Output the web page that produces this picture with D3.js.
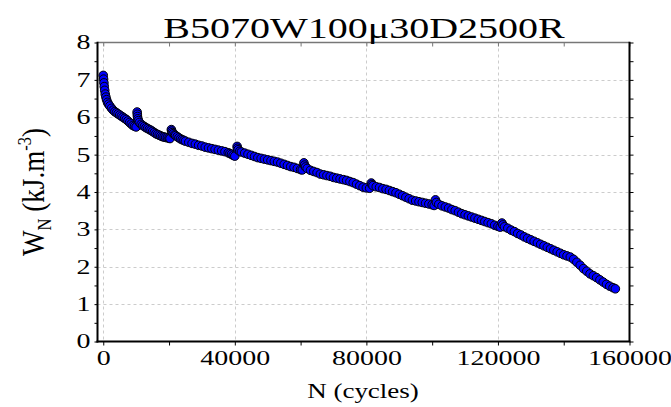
<!DOCTYPE html>
<html>
<head>
<meta charset="utf-8">
<script src="https://cdn.jsdelivr.net/npm/d3@7"></script>
<style>
  html, body { margin: 0; padding: 0; background: #fff; }
  svg { display: block; }
  text { font-family: "Liberation Serif", "DejaVu Serif", serif; fill: #000; }
  .xt text { transform-box: fill-box; transform-origin: center; transform: scaleX(1.4); }
  .yt text { transform-box: fill-box; transform-origin: right center; transform: scaleX(1.4); }
</style>
</head>
<body>
<svg id="chart" width="671" height="407"></svg>
<script>
const title = "B5070W100\u03bc30D2500R";
const xTicks = [0, 40000, 80000, 120000, 160000];
const yTicks = [0, 1, 2, 3, 4, 5, 6, 7, 8];

// cycles N
const cyclesN = [
  0, 100, 200, 300, 450, 600, 800, 1000, 1300, 1600, 2000, 2500, 3000, 3500, 4000, 4500, 5000, 5500,
  6000, 6500, 7000, 7500, 8000, 8500, 9000, 9500, 10000,
  10300, 10350, 10400, 10500, 10700, 11000, 11500, 12000, 12500, 13000, 13500, 14000, 14500, 15000,
  15500, 16000, 16500, 17000, 17500, 18000, 18500, 19000, 19500, 20000, 20300,
  20700, 20800, 21000, 21300, 21700, 22000, 22500, 23000, 23500, 24000, 24500, 25000, 26000, 27000,
  28000, 29000, 30000, 31000, 32000, 33000, 34000, 35000, 36000, 37000, 38000, 38500, 39000, 39500, 40000,
  40700, 40800, 41000, 41500, 42000, 43000, 44000, 45000, 46000, 47000, 48000, 49000, 50000, 51000,
  52000, 53000, 54000, 55000, 56000, 57000, 58000, 59000, 60000, 60500,
  61000, 61200, 61500, 62000, 63000, 64000, 65000, 66000, 67000, 68000, 69000, 70000, 71000, 72000,
  73000, 74000, 75000, 76000, 77000, 78000, 79000, 80000, 81000,
  81500, 81700, 82000, 83000, 84000, 85000, 86000, 87000, 88000, 89000, 90000, 91000, 92000, 93000,
  94000, 95000, 96000, 97000, 98000, 99000, 100000, 100600,
  101000, 101300, 102000, 103000, 104000, 105000, 106000, 107000, 108000, 109000, 110000, 111000,
  112000, 113000, 114000, 115000, 116000, 117000, 118000, 119000, 120000, 120700,
  121200, 121500, 122000, 123000, 124000, 125000, 126000, 127000, 128000, 129000, 130000, 131000,
  132000, 133000, 134000, 135000, 136000, 137000, 138000, 139000, 140000, 141000, 142000, 143000,
  144000, 145000, 146000, 147000, 148000, 149000, 150000, 151000, 152000, 153000, 154000, 155000, 155700
];

// energy W_N (kJ.m^-3)
const energyW = [
  7.12, 7.02, 6.92, 6.82, 6.72, 6.62, 6.54, 6.47, 6.40, 6.35, 6.30, 6.24, 6.19, 6.15, 6.12, 6.09, 6.06, 6.03,
  6.00, 5.97, 5.94, 5.90, 5.86, 5.82, 5.78, 5.76, 5.74,
  6.14, 6.08, 6.02, 5.96, 5.91, 5.86, 5.81, 5.78, 5.75, 5.72, 5.70, 5.67, 5.65, 5.62,
  5.59, 5.56, 5.54, 5.52, 5.50, 5.48, 5.47, 5.46, 5.45, 5.44, 5.43,
  5.67, 5.63, 5.59, 5.56, 5.53, 5.51, 5.48, 5.45, 5.42, 5.40, 5.38, 5.36, 5.33, 5.30,
  5.28, 5.25, 5.23, 5.20, 5.18, 5.16, 5.14, 5.12, 5.10, 5.08, 5.05, 5.03, 5.01, 4.98, 4.96,
  5.22, 5.17, 5.13, 5.09, 5.07, 5.04, 5.01, 4.98, 4.95, 4.92, 4.90, 4.88, 4.86, 4.84,
  4.82, 4.80, 4.77, 4.74, 4.71, 4.68, 4.66, 4.63, 4.60, 4.59,
  4.78, 4.72, 4.67, 4.63, 4.58, 4.55, 4.52, 4.48, 4.46, 4.44, 4.42, 4.39, 4.37, 4.35,
  4.33, 4.31, 4.28, 4.25, 4.21, 4.17, 4.13, 4.11, 4.10,
  4.24, 4.20, 4.17, 4.14, 4.12, 4.09, 4.07, 4.04, 4.01, 3.98, 3.94, 3.90, 3.86, 3.82,
  3.78, 3.76, 3.74, 3.72, 3.70, 3.68, 3.66, 3.64,
  3.79, 3.72, 3.67, 3.63, 3.60, 3.57, 3.53, 3.50, 3.46, 3.42, 3.39, 3.36,
  3.33, 3.30, 3.27, 3.24, 3.21, 3.18, 3.15, 3.11, 3.08, 3.06,
  3.17, 3.12, 3.07, 3.03, 2.98, 2.94, 2.89, 2.85, 2.80, 2.76, 2.72, 2.68,
  2.64, 2.60, 2.56, 2.52, 2.48, 2.44, 2.40, 2.36, 2.32, 2.29, 2.26, 2.20,
  2.12, 2.04, 1.95, 1.88, 1.81, 1.76, 1.71, 1.65, 1.59, 1.53, 1.48, 1.44, 1.41
];

const data = cyclesN.map((n, i) => ({ n: n, w: energyW[i] }));

const svg = d3.select("#chart");
const L = 97.5, R = 629.5, T = 42.5, B = 341.5;

const x = d3.scaleLinear().domain([-1750, 160000]).range([L, R]);
const y = d3.scaleLinear().domain([0, 8]).range([B, T]);

// grid
const grid = svg.append("g").attr("stroke", "#cccccc").attr("stroke-width", 1).attr("stroke-dasharray", "3,3");
grid.selectAll("line.v").data(xTicks.filter(d => d < 160000)).join("line")
  .attr("x1", d => Math.round(x(d)) + 0.5).attr("x2", d => Math.round(x(d)) + 0.5)
  .attr("y1", T).attr("y2", B);
grid.selectAll("line.h").data(yTicks.filter(d => d > 0 && d < 8)).join("line")
  .attr("x1", L).attr("x2", R)
  .attr("y1", d => Math.round(y(d)) + 0.5).attr("y2", d => Math.round(y(d)) + 0.5);

// top axis (grey, inward ticks)
const xMinor = d3.range(0, 160001, 20000);
const yMinor = d3.range(0, 8.01, 0.5);
svg.append("g").attr("transform", `translate(0,${T})`)
  .call(d3.axisBottom(x).tickValues(xMinor).tickSize(4).tickFormat(""))
  .call(g => g.select(".domain").remove())
  .call(g => g.selectAll("line").attr("stroke", "#777"));
svg.append("line").attr("x1", L).attr("x2", R).attr("y1", T).attr("y2", T)
  .attr("stroke", "#777").attr("stroke-width", 1.5);

// right axis
svg.append("g").attr("transform", `translate(${R},0)`)
  .call(d3.axisRight(y).tickValues(yMinor).tickSize(4).tickFormat(""))
  .call(g => g.select(".domain").remove())
  .call(g => g.selectAll("line").attr("stroke", "#000"));
svg.append("line").attr("x1", R).attr("x2", R).attr("y1", T - 0.75).attr("y2", B)
  .attr("stroke", "#000").attr("stroke-width", 2);

// bottom axis
const xAxis = svg.append("g").attr("class", "xt").attr("transform", `translate(0,${B})`)
  .call(d3.axisBottom(x).tickValues(xMinor).tickSize(4).tickPadding(5)
    .tickFormat(d => xTicks.includes(d) ? String(d) : ""));
xAxis.select(".domain").remove();
xAxis.selectAll("line").attr("stroke", "#000");
xAxis.selectAll("text").attr("font-size", 20).style("font-family", "Liberation Serif");
svg.append("line").attr("x1", L - 1).attr("x2", R + 1).attr("y1", B).attr("y2", B)
  .attr("stroke", "#000").attr("stroke-width", 2);

// left axis
const yAxis = svg.append("g").attr("class", "yt").attr("transform", `translate(${L},0)`)
  .call(d3.axisLeft(y).tickValues(yMinor).tickSize(3).tickPadding(4)
    .tickFormat(d => Number.isInteger(d) ? String(d) : ""));
yAxis.select(".domain").remove();
yAxis.selectAll("line").attr("stroke", "#000");
yAxis.selectAll("text").attr("font-size", 20).style("font-family", "Liberation Serif");
svg.append("line").attr("x1", L).attr("x2", L).attr("y1", T - 0.75).attr("y2", B + 1)
  .attr("stroke", "#000").attr("stroke-width", 2);

// points
svg.append("g").selectAll("circle").data(data).join("circle")
  .attr("cx", d => x(d.n)).attr("cy", d => y(d.w)).attr("r", 4.3)
  .attr("fill", "#0000ff").attr("stroke", "#000").attr("stroke-width", 1);

// title
svg.append("g").attr("transform", "translate(364,38) scale(1.38,1)")
  .append("text").attr("text-anchor", "middle").attr("font-size", 29).text(title);

// x label
svg.append("g").attr("transform", "translate(363,398) scale(1.35,1)")
  .append("text").attr("text-anchor", "middle").attr("font-size", 20).text("N (cycles)");

// y label
const yl = svg.append("g").attr("transform", "translate(44,192) scale(1.35,1.18) rotate(-90)")
  .append("text").attr("text-anchor", "middle").attr("font-size", 23);
yl.append("tspan").text("W");
yl.append("tspan").attr("font-size", 14).attr("dy", 5).text("N");
yl.append("tspan").attr("dy", -5).text(" (kJ.m");
yl.append("tspan").attr("font-size", 14).attr("dy", -10).text("-3");
yl.append("tspan").attr("dy", 10).text(")");
</script>
</body>
</html>
